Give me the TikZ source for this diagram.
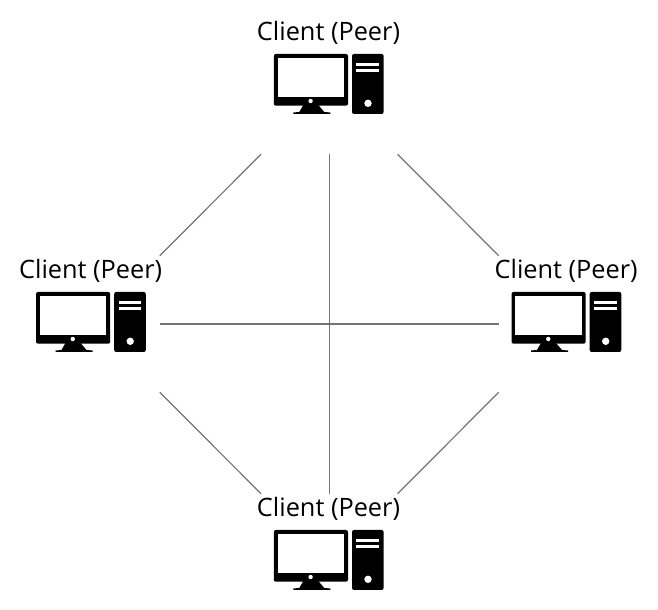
\documentclass[tikz,border=0pt]{standalone}
\usepackage{fontspec}
\setmainfont{Open Sans}
\usetikzlibrary{positioning}

\tikzset{
  peer/.pic={
    % hidden square, the links stop at its corners and sides
    \node[minimum size=102pt, inner sep=0pt] (-area) at (0,0) {};
    \node[lbl] (-label) at (-0.8,53.4) {Client (Peer)};
    % monitor
    \fill[black, rounded corners=1.5pt] (-55.5,32) rectangle (18.7,-19.7);
    \fill[white] (-51.7,27.7) rectangle (14.7,-11.3);
    \fill[white] (-18.7,-15) circle (2.2);
    \fill[black] (-26,-19) -- (-11,-19) -- (-5,-26) -- (1,-26.5) -- (1,-28) -- (-36,-28) -- (-36,-26.5) -- (-30,-26) -- cycle;
    % tower
    \fill[black, rounded corners=1.5pt] (22.7,32) rectangle (54.3,-28);
    \fill[white] (27,23.3) rectangle (49.7,20.3);
    \fill[white] (27,16.7) rectangle (49.7,14);
    \fill[white] (38.7,-17.3) circle (3.7);
  }
}

\begin{document}
\begin{tikzpicture}[
  x=0.75pt, y=0.75pt,
  lbl/.style={font=\fontsize{19}{22}\selectfont, inner sep=0pt},
  link/.style={draw=black!55, line width=0.9pt}
]
\useasboundingbox[fill=white] (0,0) rectangle (658,610);

\pic (top) at (329.3,524) {peer};
\pic (left) at (91.5,286) {peer};
\pic (right) at (567,286) {peer};
\pic (bottom) at (329.3,48) {peer};

\draw[link] (top-area.south west) -- (left-area.north east);
\draw[link] (top-area.south east) -- (right-area.north west);
\draw[link] (top-area.south) -- (bottom-area.north);
\draw[link] (left-area.east) -- (right-area.west);
\draw[link] (left-area.south east) -- (bottom-area.north west);
\draw[link] (right-area.south west) -- (bottom-area.north east);
\end{tikzpicture}
\end{document}
